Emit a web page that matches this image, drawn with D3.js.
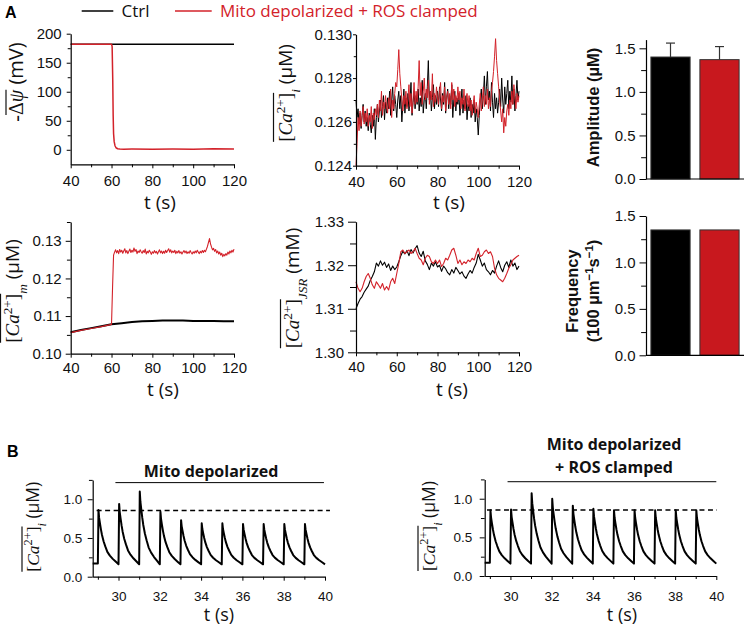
<!DOCTYPE html>
<html><head><meta charset="utf-8">
<script src="https://cdn.jsdelivr.net/npm/d3@7"></script>
<style>body{margin:0;background:#fff}svg{display:block}</style>
</head><body><svg id="fig" width="744" height="628"></svg>
<script>
// ---------------- DATA ----------------
const legendLabels = ["Ctrl", "Mito depolarized + ROS clamped"];
const timeTicksMajor = [40, 60, 80, 100, 120];
const timeTicksMinor = [50, 70, 90, 110];

// Panel: -ΔΨ (mV)
const dpsiCtrlT = [40, 120];
const dpsiCtrl = [182, 182];
const dpsiDepolT = [40, 60, 60.3, 60.6, 60.8, 61.0, 61.3, 61.7, 62.2, 63, 64, 66, 70, 80, 90, 100, 110, 120];
const dpsiDepol = [182, 182, 178, 120, 60, 28, 14, 7, 3.5, 1.8, 1.2, 1.0, 1.2, 1.0, 1.4, 1.1, 1.6, 1.3];

// Panel: [Ca]i (µM), sampled every 0.5 s from 40 s
const caiStart = 40, caiStep = 0.5;
const caiCtrl = [
0.1270,0.1262,0.1266,0.1259,0.1264,0.1257,0.1263,0.1268,0.1260,0.1265,0.1258,
0.1262,0.1256,0.1264,0.1259,0.1255,0.1263,0.1258,0.1266,0.1252,0.1262,
0.1268,0.1260,0.1265,0.1270,0.1262,0.1267,0.1272,0.1261,0.1269,0.1264,
0.1271,0.1266,0.1274,0.1263,0.1270,0.1276,0.1265,0.1272,0.1268,0.1262,
0.1270,0.1274,0.1266,0.1272,0.1260,0.1268,0.1275,0.1264,0.1271,0.1267,
0.1273,0.1265,0.1270,0.1278,0.1263,0.1269,0.1274,0.1266,0.1272,0.1268,
0.1275,0.1265,0.1271,0.1267,0.1279,0.1264,0.1270,0.1273,0.1266,0.1276,
0.1288,0.1270,0.1274,0.1265,0.1271,0.1277,0.1266,0.1272,0.1268,0.1274,
0.1267,0.1276,0.1270,0.1265,0.1273,0.1268,0.1278,0.1264,0.1271,0.1275,
0.1266,0.1272,0.1268,0.1277,0.1262,0.1270,0.1274,0.1265,0.1271,0.1268,
0.1273,0.1263,0.1269,0.1275,0.1264,0.1270,0.1266,0.1272,0.1261,0.1268,
0.1265,0.1271,0.1262,0.1268,0.1264,0.1270,0.1260,0.1266,0.1262,0.1254,
0.1263,0.1270,0.1275,0.1266,0.1272,0.1281,0.1268,0.1276,0.1283,0.1270,
0.1274,0.1265,0.1278,0.1269,0.1262,0.1273,0.1266,0.1271,0.1264,0.1269,
0.1275,0.1267,0.1280,0.1270,0.1264,0.1276,0.1268,0.1273,0.1279,0.1266,
0.1274,0.1269,0.1281,0.1268,0.1275,0.1265,0.1272,0.1279,0.1270,0.1274];
const caiDepol = [
0.1240,0.1250,0.1262,0.1256,0.1265,0.1258,0.1263,0.1267,0.1259,0.1264,0.1260,
0.1266,0.1258,0.1263,0.1260,0.1267,0.1257,0.1264,0.1261,0.1266,0.1263,
0.1268,0.1262,0.1270,0.1265,0.1274,0.1263,0.1269,0.1266,0.1272,0.1267,
0.1264,0.1271,0.1266,0.1275,0.1262,0.1270,0.1266,0.1273,0.1278,0.1276,
0.1284,0.1293,0.1282,0.1276,0.1270,0.1265,0.1272,0.1268,0.1274,0.1266,
0.1271,0.1277,0.1267,0.1273,0.1264,0.1270,0.1278,0.1268,0.1274,0.1269,
0.1276,0.1288,0.1272,0.1278,0.1268,0.1274,0.1280,0.1270,0.1275,0.1271,
0.1279,0.1268,0.1274,0.1270,0.1282,0.1267,0.1273,0.1269,0.1276,0.1271,
0.1268,0.1274,0.1278,0.1266,0.1272,0.1269,0.1276,0.1265,0.1271,0.1274,
0.1268,0.1273,0.1266,0.1278,0.1270,0.1275,0.1267,0.1272,0.1269,0.1276,
0.1270,0.1274,0.1266,0.1271,0.1268,0.1275,0.1265,0.1270,0.1273,0.1267,
0.1272,0.1265,0.1270,0.1263,0.1268,0.1272,0.1264,0.1269,0.1266,0.1262,
0.1268,0.1273,0.1265,0.1270,0.1276,0.1267,0.1272,0.1268,0.1275,0.1266,
0.1271,0.1267,0.1274,0.1278,0.1283,0.1290,0.1298,0.1288,0.1282,0.1276,
0.1270,0.1265,0.1260,0.1266,0.1255,0.1262,0.1258,0.1265,0.1268,0.1263,
0.1270,0.1266,0.1274,0.1268,0.1277,0.1271,0.1266,0.1273,0.1269,0.1272];

// Panel: [Ca]m (µM)
const camCtrlT = [40,45,50,55,60,65,70,75,80,85,90,95,100,105,110,115,120];
const camCtrl = [0.1057,0.1063,0.1068,0.1073,0.1078,0.1081,0.1084,0.1086,0.1087,0.1088,0.1088,0.1088,0.1087,0.1087,0.1087,0.1086,0.1086];
const camDepolPreT = [40,45,50,55,60];
const camDepolPre = [0.1056,0.1062,0.1067,0.1072,0.1078];
const camPostStart = 60.5, camPostStep = 0.5;
const camDepolPost = [
0.1175,0.1262,0.1270,0.1276,0.1268,0.1274,0.1266,0.1277,0.1270,0.1275,
0.1267,0.1273,0.1279,0.1268,0.1274,0.1266,0.1272,0.1278,0.1269,0.1275,
0.1270,0.1281,0.1272,0.1277,0.1266,0.1273,0.1269,0.1276,0.1271,0.1267,
0.1274,0.1269,0.1278,0.1265,0.1272,0.1268,0.1275,0.1270,0.1264,0.1271,
0.1267,0.1274,0.1268,0.1272,0.1265,0.1271,0.1276,0.1268,0.1273,0.1266,
0.1272,0.1267,0.1275,0.1269,0.1274,0.1279,0.1270,0.1276,0.1268,0.1273,
0.1269,0.1275,0.1266,0.1272,0.1268,0.1274,0.1267,0.1271,0.1265,0.1270,
0.1274,0.1268,0.1273,0.1266,0.1271,0.1267,0.1274,0.1269,0.1265,0.1271,
0.1267,0.1273,0.1268,0.1275,0.1270,0.1266,0.1272,0.1268,0.1274,0.1269,
0.1275,0.1271,0.1278,0.1285,0.1296,0.1306,0.1292,0.1283,0.1276,0.1280,
0.1272,0.1277,0.1268,0.1273,0.1265,0.1270,0.1262,0.1267,0.1258,0.1264,
0.1260,0.1266,0.1262,0.1270,0.1265,0.1273,0.1268,0.1275,0.1270,0.1278];

// Panel: [Ca]JSR (mM), sampled every 1 s from 40 s
const jsrStart = 40, jsrStep = 1;
const jsrCtrl = [
1.3100,1.3112,1.3122,1.3128,1.3138,1.3145,1.3152,1.3165,1.3174,1.3185,
1.3205,1.3198,1.3210,1.3200,1.3207,1.3195,1.3203,1.3188,1.3198,1.3190,
1.3196,1.3208,1.3222,1.3232,1.3226,1.3234,1.3222,1.3236,1.3228,1.3238,
1.3245,1.3228,1.3220,1.3232,1.3210,1.3202,1.3190,1.3205,1.3198,1.3208,
1.3196,1.3200,1.3186,1.3198,1.3192,1.3183,1.3178,1.3190,1.3182,1.3195,
1.3188,1.3180,1.3185,1.3175,1.3170,1.3180,1.3188,1.3182,1.3195,1.3205,
1.3225,1.3212,1.3198,1.3205,1.3190,1.3185,1.3178,1.3188,1.3182,1.3198,
1.3210,1.3195,1.3185,1.3200,1.3208,1.3195,1.3212,1.3198,1.3205,1.3190,
1.3198];
const jsrDepol = [
1.3162,1.3147,1.3139,1.3147,1.3162,1.3174,1.3181,1.3170,1.3155,1.3147,
1.3162,1.3155,1.3147,1.3158,1.3143,1.3151,1.3143,1.3162,1.3170,1.3158,
1.3181,1.3204,1.3231,1.3235,1.3227,1.3231,1.3235,1.3227,1.3231,1.3239,
1.3227,1.3216,1.3212,1.3201,1.3216,1.3223,1.3220,1.3208,1.3204,1.3212,
1.3204,1.3212,1.3197,1.3204,1.3216,1.3212,1.3223,1.3235,1.3239,1.3223,
1.3204,1.3212,1.3201,1.3208,1.3204,1.3212,1.3208,1.3216,1.3212,1.3227,
1.3239,1.3220,1.3223,1.3231,1.3235,1.3227,1.3231,1.3220,1.3193,1.3178,
1.3170,1.3166,1.3162,1.3170,1.3181,1.3193,1.3201,1.3212,1.3216,1.3220,
1.3223];

// Bar panels
const barGroups = ["Ctrl", "Depol"];
const amplitudeMean = [1.40, 1.37];
const amplitudeErr = [0.16, 0.15];
const frequencyMean = [1.35, 1.35];

// Panel B: Ca transients
const beatTimes = [29, 30, 31, 32, 33, 34, 35, 36, 37, 38, 39];
const peaksDepol = [0.86, 0.94, 1.10, 0.84, 0.73, 0.69, 0.69, 0.68, 0.68, 0.68, 0.68];
const peaksClamp = [0.85, 0.86, 1.07, 1.00, 0.91, 0.87, 0.85, 0.85, 0.85, 0.85, 0.85];
const beatBase = 0.16, preBeatLevel = 0.17;
const beatOffsets = [0, 0.03, 0.06, 0.10, 0.15, 0.20, 0.28, 0.36, 0.46, 0.58, 0.72, 0.86, 1.0];
const beatShape   = [0, 1.00, 0.86, 0.76, 0.64, 0.54, 0.42, 0.33, 0.23, 0.16, 0.10, 0.05, 0];
const refLevel = 0.855;
const bTicksMajor = [30, 32, 34, 36, 38, 40];
const bTicksMinor = [29, 31, 33, 35, 37, 39];

// ---------------- DRAWING ----------------
const svg = d3.select('#fig');
const RED = '#d3222a', BARRED = '#c8181e';
const TF = "'Liberation Sans', Arial, sans-serif";
const SANS = "'Open Sans', sans-serif";
const SERIF = "'Liberation Serif', 'DejaVu Serif', serif";

function axes(c) {
  const y0 = c.y.range()[0];
  const x0 = c.x.range()[0];
  const mk = (g) => { g.selectAll('.domain').attr('stroke', '#000').attr('stroke-width', 1.2);
    g.selectAll('.tick line').attr('stroke', '#000').attr('stroke-width', 1);
    g.selectAll('.tick text').attr('font-family', TF).attr('font-size', c.fs || 15).attr('fill', '#111'); };
  if (c.xMajor) {
    const gm = svg.append('g').attr('transform', `translate(0,${y0})`)
      .call(d3.axisBottom(c.x).tickValues(c.xMinor).tickSize(c.xTick * 0.75).tickFormat('').tickSizeOuter(0));
    gm.select('.domain').remove(); mk(gm);
    const g = svg.append('g').attr('transform', `translate(0,${y0})`)
      .call(d3.axisBottom(c.x).tickValues(c.xMajor).tickSize(c.xTick).tickPadding(c.xPad).tickSizeOuter(0).tickFormat(c.xFmt || d3.format('d')));
    mk(g);
  }
  const gm2 = svg.append('g').attr('transform', `translate(${x0},0)`)
    .call(d3.axisLeft(c.y).tickValues(c.yMinor).tickSize(c.yTick * 0.75).tickFormat('').tickSizeOuter(0));
  gm2.select('.domain').remove(); mk(gm2);
  const g2 = svg.append('g').attr('transform', `translate(${x0},0)`)
    .call(d3.axisLeft(c.y).tickValues(c.yMajor).tickSize(c.yTick).tickPadding(c.yPad).tickSizeOuter(0).tickFormat(c.yFmt));
  mk(g2);
}

function line(xs, ys, x, y, color, w) {
  const pts = xs.map((t, i) => [t, ys[i]]);
  svg.append('path').attr('d', d3.line().x(d => x(d[0])).y(d => y(d[1]))(pts))
    .attr('fill', 'none').attr('stroke', color).attr('stroke-width', w)
    .attr('stroke-linejoin', 'round');
}
const times = (start, step, arr) => arr.map((_, i) => start + i * step);

function mathLabel(x, y, size, parts) {
  const g = svg.append('g').attr('transform', `translate(${x},${y}) rotate(-90)`);
  const text = g.append('text').attr('text-anchor', 'middle').attr('font-size', size).attr('fill', '#111');
  let idx = 0; const over = [];
  parts.forEach(p => {
    const ts = text.append('tspan').text(p.t)
      .attr('font-family', p.sans ? SANS : SERIF)
      .attr('font-style', p.it ? 'italic' : 'normal');
    if (p.sup) ts.attr('baseline-shift', 'super').attr('font-size', size * 0.7);
    if (p.sub) ts.attr('baseline-shift', 'sub').attr('font-size', size * 0.7);
    if (p.over) for (let k = 0; k < p.t.length; k++) over.push(idx + k);
    idx += p.t.length;
  });
  if (over.length) {
    const n = text.node();
    let x1 = Infinity, x2 = -Infinity, yt = Infinity;
    over.forEach(i => { const r = n.getExtentOfChar(i); x1 = Math.min(x1, r.x); x2 = Math.max(x2, r.x + r.width); yt = Math.min(yt, r.y); });
    g.append('line').attr('x1', x1).attr('x2', x2).attr('y1', yt + 1).attr('y2', yt + 1)
      .attr('stroke', '#111').attr('stroke-width', 1.2);
  }
}

function tLabel(x, y, fs) {
  svg.append('text').attr('x', x).attr('y', y).attr('text-anchor', 'middle')
    .attr('font-family', SANS).attr('font-size', fs || 19).attr('fill', '#111').text('t (s)');
}

// Panel letters
svg.append('text').attr('x', 5).attr('y', 17.5).attr('font-family', TF).attr('font-weight', 'bold').attr('font-size', 16).text('A');
svg.append('text').attr('x', 7).attr('y', 457).attr('font-family', TF).attr('font-weight', 'bold').attr('font-size', 16).text('B');

// Legend
svg.append('line').attr('x1', 81.7).attr('x2', 113.3).attr('y1', 11).attr('y2', 11).attr('stroke', '#000').attr('stroke-width', 1.5);
svg.append('text').attr('x', 121.5).attr('y', 17).attr('font-family', SANS).attr('font-size', 17).attr('fill', '#111').text(legendLabels[0]);
svg.append('line').attr('x1', 175).attr('x2', 211.7).attr('y1', 11).attr('y2', 11).attr('stroke', RED).attr('stroke-width', 1.5);
svg.append('text').attr('x', 220).attr('y', 17).attr('font-family', SANS).attr('font-size', 17).attr('fill', RED).text(legendLabels[1]);

// ---- Panel 1: ΔΨ
{
  const x = d3.scaleLinear().domain([40, 120]).range([70.7, 234]);
  const y = d3.scaleLinear().domain([-25, 200]).range([164.3, 33.7]);
  line(dpsiCtrlT, dpsiCtrl, x, y, '#000', 1.5);
  line(dpsiDepolT, dpsiDepol, x, y, RED, 1.5);
  axes({x, y, xMajor: timeTicksMajor, xMinor: timeTicksMinor, xTick: 4, xPad: 7,
        yMajor: [0, 50, 100, 150, 200], yMinor: [25, 75, 125, 175], yTick: 4, yPad: 5, yFmt: d3.format('d')});
  mathLabel(23, 82, 20, [{t: '-'}, {t: 'Δ', over: true}, {t: 'ψ', it: true, over: true}, {t: ' (mV)', sans: true}]);
  tLabel(160, 209);
}
// ---- Panel 2: [Ca]i
{
  const x = d3.scaleLinear().domain([40, 120]).range([356, 519]);
  const y = d3.scaleLinear().domain([0.124, 0.130]).range([165.7, 34.3]);
  line(times(caiStart, caiStep, caiCtrl), caiCtrl, x, y, '#000', 1);
  line(times(caiStart, caiStep, caiDepol), caiDepol, x, y, RED, 1);
  axes({x, y, xMajor: timeTicksMajor, xMinor: timeTicksMinor, xTick: 4, xPad: 7,
        yMajor: [0.124, 0.126, 0.128, 0.130], yMinor: [0.125, 0.127, 0.129], yTick: 3, yPad: 1, yFmt: d3.format('.3f')});
  mathLabel(292, 93, 19, [{t: '[', over: true}, {t: 'Ca', it: true, over: true}, {t: '2+', sup: true, over: true}, {t: ']', over: true}, {t: 'i', it: true, sub: true}, {t: ' (µM)', sans: true}]);
  tLabel(449, 209);
}
// ---- Panel 4: [Ca]m
{
  const x = d3.scaleLinear().domain([40, 120]).range([70.7, 234]);
  const y = d3.scaleLinear().domain([0.10, 0.135]).range([353.7, 222]);
  line(camCtrlT, camCtrl, x, y, '#000', 2);
  line(camDepolPreT.concat(times(camPostStart, camPostStep, camDepolPost)), camDepolPre.concat(camDepolPost), x, y, RED, 1.1);
  axes({x, y, xMajor: timeTicksMajor, xMinor: timeTicksMinor, xTick: 4, xPad: 5,
        yMajor: [0.10, 0.11, 0.12, 0.13], yMinor: [0.105, 0.115, 0.125, 0.135], yTick: 5, yPad: 4, yFmt: d3.format('.2f')});
  mathLabel(19, 291, 19, [{t: '[', over: true}, {t: 'Ca', it: true, over: true}, {t: '2+', sup: true, over: true}, {t: ']', over: true}, {t: 'm', it: true, sub: true}, {t: ' (µM)', sans: true}]);
  tLabel(163, 396);
}
// ---- Panel 5: [Ca]JSR
{
  const x = d3.scaleLinear().domain([40, 120]).range([356, 519]);
  const y = d3.scaleLinear().domain([1.30, 1.33]).range([352.3, 221.7]);
  line(times(jsrStart, jsrStep, jsrCtrl), jsrCtrl, x, y, '#000', 1.1);
  line(times(jsrStart, jsrStep, jsrDepol), jsrDepol, x, y, RED, 1.1);
  axes({x, y, xMajor: timeTicksMajor, xMinor: timeTicksMinor, xTick: 4, xPad: 5,
        yMajor: [1.30, 1.31, 1.32, 1.33], yMinor: [1.305, 1.315, 1.325], yTick: 8, yPad: 4, yFmt: d3.format('.2f')});
  mathLabel(299, 288, 19, [{t: '[', over: true}, {t: 'Ca', it: true, over: true}, {t: '2+', sup: true, over: true}, {t: ']', over: true}, {t: 'JSR', it: true, sub: true}, {t: ' (mM)', sans: true}]);
  tLabel(452, 396);
}
// ---- Bar panels
function bars(y, vals, errs) {
  const x = d3.scaleBand().domain(barGroups).range([646, 744]).paddingInner(0.2).paddingOuter(0.1);
  svg.append('g').selectAll('rect').data(vals).join('rect')
    .attr('x', (d, i) => x(barGroups[i])).attr('width', x.bandwidth())
    .attr('y', d => y(d)).attr('height', d => y(0) - y(d))
    .attr('fill', (d, i) => i === 0 ? '#000' : BARRED).attr('stroke', '#333').attr('stroke-width', 1);
  if (errs) {
    vals.forEach((v, i) => {
      const cx = x(barGroups[i]) + x.bandwidth() / 2;
      svg.append('line').attr('x1', cx).attr('x2', cx).attr('y1', y(v)).attr('y2', y(v + errs[i])).attr('stroke', '#333').attr('stroke-width', 1.2);
      svg.append('line').attr('x1', cx - 4.5).attr('x2', cx + 4.5).attr('y1', y(v + errs[i])).attr('y2', y(v + errs[i])).attr('stroke', '#333').attr('stroke-width', 1.2);
    });
  }
  svg.append('line').attr('x1', 646).attr('x2', 744).attr('y1', y(0)).attr('y2', y(0)).attr('stroke', '#000').attr('stroke-width', 1.2);
  axes({x: d3.scaleLinear().range([646, 744]), y, yMajor: [0, 0.5, 1.0, 1.5], yMinor: [0.25, 0.75, 1.25], yTick: 6.5, yPad: 4, yFmt: d3.format('.1f'), fs: 15});
}
{
  const y = d3.scaleLinear().domain([0, 1.6]).range([179, 39.6]);
  bars(y, amplitudeMean, amplitudeErr);
  svg.append('text').attr('transform', 'translate(599,107.5) rotate(-90)').attr('text-anchor', 'middle')
    .attr('font-family', TF).attr('font-weight', 'bold').attr('font-size', 16.5).attr('fill', '#111').text('Amplitude (µM)');
}
{
  const y = d3.scaleLinear().domain([0, 1.5]).range([355.3, 216]);
  bars(y, frequencyMean, null);
  svg.append('text').attr('transform', 'translate(578,291) rotate(-90)').attr('text-anchor', 'middle')
    .attr('font-family', TF).attr('font-weight', 'bold').attr('font-size', 16.5).attr('fill', '#111').text('Frequency');
  const t2 = svg.append('text').attr('transform', 'translate(599,291) rotate(-90)').attr('text-anchor', 'middle')
    .attr('font-family', TF).attr('font-weight', 'bold').attr('font-size', 16.5).attr('fill', '#111');
  t2.append('tspan').text('(100 µm');
  t2.append('tspan').text('−1').attr('baseline-shift', 'super').attr('font-size', 11.5);
  t2.append('tspan').text('s');
  t2.append('tspan').text('−1').attr('baseline-shift', 'super').attr('font-size', 11.5);
  t2.append('tspan').text(')');
}
// ---- Panel B
function beatTrace(peaks) {
  const ts = [28.75], vs = [preBeatLevel];
  beatTimes.forEach((t0, i) => {
    beatOffsets.forEach((o, k) => {
      if (k === beatOffsets.length - 1 && i < beatTimes.length - 1) return;
      ts.push(t0 + o);
      const base = (k === 0 && i === 0) ? preBeatLevel : beatBase;
      vs.push(base + (peaks[i] - base) * beatShape[k]);
    });
  });
  return [ts, vs];
}
function panelB(xr, yr, peaks, dash, bar, yPad, labelX, tX) {
  const x = d3.scaleLinear().domain([28.75, 40]).range(xr);
  const y = d3.scaleLinear().domain([0, 1.25]).range(yr);
  const [ts, vs] = beatTrace(peaks);
  line(ts, vs, x, y, '#000', 2);
  svg.append('line').attr('x1', x(dash[0])).attr('x2', x(dash[1])).attr('y1', y(refLevel)).attr('y2', y(refLevel))
    .attr('stroke', '#000').attr('stroke-width', 1.5).attr('stroke-dasharray', '5,3.5');
  svg.append('line').attr('x1', x(bar[0])).attr('x2', x(bar[1])).attr('y1', y(bar[2])).attr('y2', y(bar[2]))
    .attr('stroke', '#000').attr('stroke-width', 1);
  axes({x, y, xMajor: bTicksMajor, xMinor: bTicksMinor, xTick: 4, xPad: 11, xFmt: d3.format('d'),
        yMajor: [0, 0.5, 1.0], yMinor: [0.25, 0.75, 1.25], yTick: 5, yPad: yPad, yFmt: d3.format('.1f'), fs: 13.5});
  mathLabel(labelX, yr[0] - 50, 17.5, [{t: '[', over: true}, {t: 'Ca', it: true, over: true}, {t: '2+', sup: true, over: true}, {t: ']', over: true}, {t: 'i', it: true, sub: true}, {t: ' (µM)', sans: true}]);
  tLabel(tX, 621, 18);
}
panelB([92.7, 325], [576.7, 479.9], peaksDepol, [28.94, 40.24], [29.85, 39.95, 1.215], 5.5, 39, 219);
panelB([484.7, 716.3], [576, 479.4], peaksClamp, [28.86, 40.03], [29.86, 40.0, 1.22], 7.5, 435, 622);
const titleStyle = s => s.attr('font-family', SANS).attr('font-weight', 'bold').attr('font-size', 16).attr('fill', '#111').attr('text-anchor', 'middle');
svg.append('text').attr('x', 211).attr('y', 476.5).call(titleStyle).text('Mito depolarized');
svg.append('text').attr('x', 614).attr('y', 450).call(titleStyle).text('Mito depolarized');
svg.append('text').attr('x', 614).attr('y', 472.5).call(titleStyle).text('+ ROS clamped');
</script></body></html>
